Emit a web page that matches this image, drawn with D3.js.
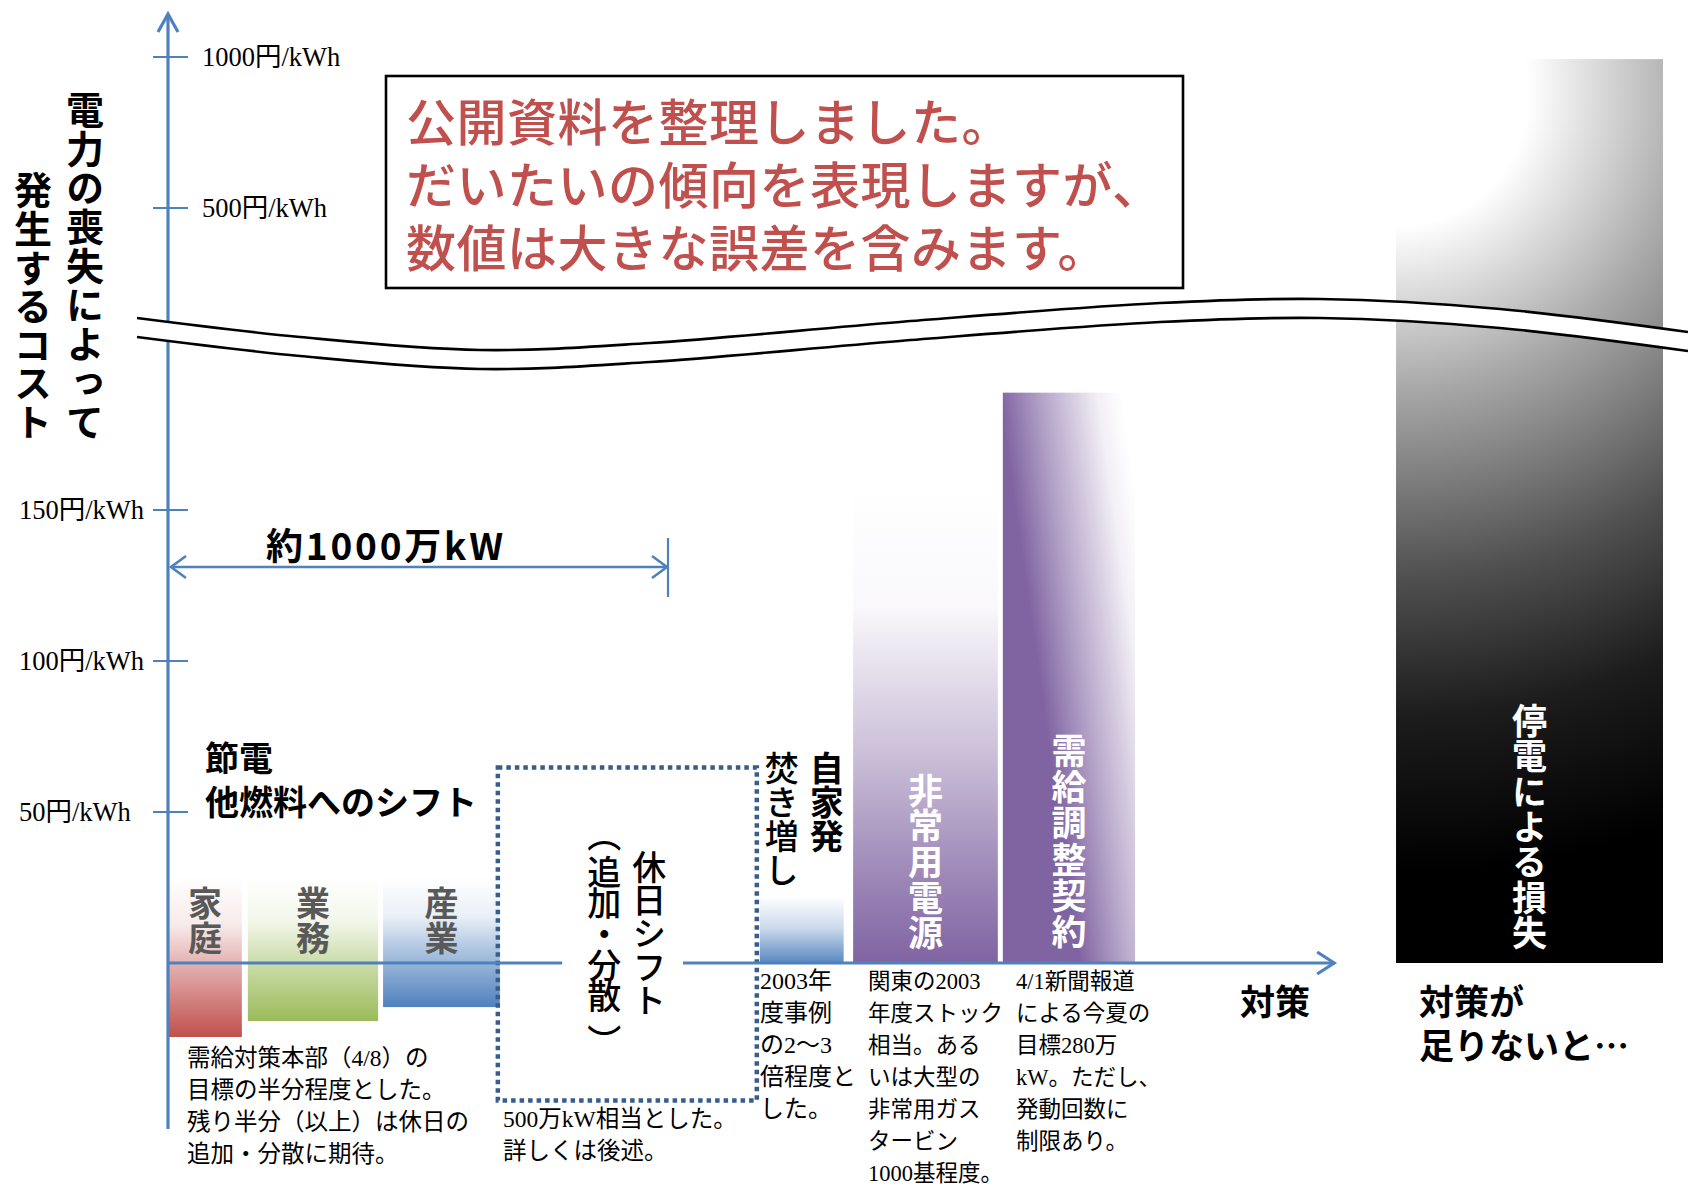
<!DOCTYPE html>
<html><head><meta charset="utf-8">
<script src="https://cdn.jsdelivr.net/npm/d3@7"></script>
<style>
html,body{margin:0;padding:0;background:#fff;}
svg{display:block;}
</style></head><body>
<svg id="c" width="1688" height="1186" font-family="Noto Sans CJK JP, sans-serif"></svg>
<script>
// ---------- data ----------
const yTickValues = [50, 100, 150, 500, 1000];
const yTickLabels = ["50円/kWh", "100円/kWh", "150円/kWh", "500円/kWh", "1000円/kWh"];
const measureNames = ["家庭", "業務", "産業", "休日シフト", "自家発焚き増し", "非常用電源", "需給調整契約", "停電による損失"];
const capacityStart = [0, 160, 431, 661, 1186, 1373, 1673, 2461];   // 万kW
const capacityWidth = [148, 261, 234, 519, 168, 290, 265, 535];     // 万kW
const costLow  = [-24.5, -19.2, -14.6, -45.5, 0, 0, 0, 0];          // 円/kWh
const costHigh = [28.5, 28.5, 28.5, 64.7, 28.5, 173, 286, 993];     // 円/kWh
const totalSpanCapacity = 1000;   // 約1000万kW
const xAxisEndCapacity = 2337;
const xAxisGapCapacity = [790, 1032];
const titleLines = ["公開資料を整理しました。", "だいたいの傾向を表現しますが、", "数値は大きな誤差を含みます。"];
const yTitleLines = ["電力の喪失によって", "発生するコスト"];
const noteTexts = [
  ["需給対策本部（4/8）の", "目標の半分程度とした。", "残り半分（以上）は休日の", "追加・分散に期待。"],
  ["500万kW相当とした。", "詳しくは後述。"],
  ["2003年", "度事例", "の2〜3", "倍程度と", "した。"],
  ["関東の2003", "年度ストック", "相当。ある", "いは大型の", "非常用ガス", "タービン", "1000基程度。"],
  ["4/1新聞報道", "による今夏の", "目標280万", "kW。ただし、", "発動回数に", "制限あり。"]
];

// ---------- layout ----------
const svg = d3.select("#c");
const x = d3.scaleLinear().domain([0, 1000]).range([168, 667]);
const y = d3.scaleLinear().domain([0, 150, 500, 1000]).range([963, 510, 208, 57]);
const blue = "#4F81BD";
const mixFont = "Liberation Serif, Noto Sans CJK JP, serif";
const defs = svg.append("defs");

function vGrad(id, color, stops) {
  const g = defs.append("linearGradient").attr("id", id)
    .attr("x1", 0).attr("y1", 0).attr("x2", 0).attr("y2", 1);
  stops.forEach(s => g.append("stop").attr("offset", s[0]).attr("stop-color", color).attr("stop-opacity", s[1]));
}
const sectorStops = [[0, 0], [0.3, 0.12], [0.55, 0.45], [1, 1]];
vGrad("g0", "#C0504D", sectorStops);
vGrad("g1", "#9BBB59", sectorStops);
vGrad("g2", "#4F81BD", sectorStops);
vGrad("g4", "#4F81BD", [[0, 0], [0.23, 0], [0.6, 0.3], [1, 0.95]]);
vGrad("g5", "#8064A2", [[0, 0], [0.25, 0.05], [0.55, 0.4], [0.8, 0.75], [1, 1]]);
{
  const g = defs.append("linearGradient").attr("id", "g6")
    .attr("x1", 0.9).attr("y1", 0).attr("x2", 0).attr("y2", 0.55);
  [[0, 0], [0.15, 0.1], [0.5, 0.6], [0.75, 1], [1, 1]].forEach(s =>
    g.append("stop").attr("offset", s[0]).attr("stop-color", "#8064A2").attr("stop-opacity", s[1]));
}
{
  const x0 = x(capacityStart[7]);
  const g = defs.append("radialGradient").attr("id", "g7").attr("gradientUnits", "userSpaceOnUse")
    .attr("cx", x0).attr("cy", y(880)).attr("fx", x0).attr("fy", y(880)).attr("r", 780);
  [[0, "#ffffff"], [0.17, "#ffffff"], [0.38, "#a8a8a8"], [0.62, "#505050"], [0.8, "#1c1c1c"], [1, "#000000"]]
    .forEach(s => g.append("stop").attr("offset", s[0]).attr("stop-color", s[1]));
}

// bars (except the dotted holiday box)
const barIdx = [0, 1, 2, 4, 5, 6, 7];
svg.append("g").selectAll("rect").data(barIdx).join("rect")
  .attr("x", i => x(capacityStart[i]))
  .attr("width", i => x(capacityStart[i] + capacityWidth[i]) - x(capacityStart[i]))
  .attr("y", i => y(costHigh[i]))
  .attr("height", i => y(costLow[i]) - y(costHigh[i]))
  .attr("fill", i => `url(#g${i})`);

// dotted box (休日シフト)
svg.append("rect")
  .attr("x", x(capacityStart[3])).attr("y", y(costHigh[3]))
  .attr("width", x(capacityStart[3] + capacityWidth[3]) - x(capacityStart[3]))
  .attr("height", y(costLow[3]) - y(costHigh[3]))
  .attr("fill", "none").attr("stroke", "#385D8A").attr("stroke-width", 4.5)
  .attr("stroke-dasharray", "4.5,4");

// y axis
const ax = x(0);
svg.append("line").attr("x1", ax).attr("x2", ax).attr("y1", 14).attr("y2", 1129)
  .attr("stroke", blue).attr("stroke-width", 3.2);
svg.append("polyline").attr("points", `${ax - 10},32 ${ax},14 ${ax + 10},32`)
  .attr("fill", "none").attr("stroke", blue).attr("stroke-width", 3.2);
const ticks = svg.append("g").selectAll("g").data(yTickValues).join("g")
  .attr("transform", d => `translate(0,${y(d)})`);
ticks.append("line").attr("x1", ax - 15).attr("x2", ax + 20).attr("stroke", blue).attr("stroke-width", 2.2);
ticks.append("text")
  .attr("x", d => d >= 500 ? ax + 34 : 19)
  .attr("y", 8.5)
  .attr("font-family", mixFont)
  .attr("font-size", 26.5).attr("fill", "#000")
  .text((d, i) => yTickLabels[i]);

// x axis
const axY = y(0);
svg.append("line").attr("x1", ax).attr("x2", x(xAxisGapCapacity[0])).attr("y1", axY).attr("y2", axY)
  .attr("stroke", blue).attr("stroke-width", 3.2);
svg.append("line").attr("x1", x(xAxisGapCapacity[1])).attr("x2", x(xAxisEndCapacity)).attr("y1", axY).attr("y2", axY)
  .attr("stroke", blue).attr("stroke-width", 3.2);
{
  const xe = x(xAxisEndCapacity);
  svg.append("polyline").attr("points", `${xe - 17},${axY - 11} ${xe},${axY} ${xe - 17},${axY + 11}`)
    .attr("fill", "none").attr("stroke", blue).attr("stroke-width", 3.2);
}

// double arrow 約1000万kW
{
  const ya = 567, x0 = x(0) + 3, x1 = x(totalSpanCapacity);
  svg.append("line").attr("x1", x0).attr("x2", x1).attr("y1", ya).attr("y2", ya).attr("stroke", blue).attr("stroke-width", 2.6);
  svg.append("polyline").attr("points", `${x0 + 15},${ya - 11} ${x0},${ya} ${x0 + 15},${ya + 11}`)
    .attr("fill", "none").attr("stroke", blue).attr("stroke-width", 2.6);
  svg.append("polyline").attr("points", `${x1 - 15},${ya - 11} ${x1},${ya} ${x1 - 15},${ya + 11}`)
    .attr("fill", "none").attr("stroke", blue).attr("stroke-width", 2.6);
  svg.append("line").attr("x1", x1 + 1).attr("x2", x1 + 1).attr("y1", 538).attr("y2", 597).attr("stroke", blue).attr("stroke-width", 2.2);
  svg.append("text").attr("x", 266).attr("y", 544).attr("dominant-baseline", "central")
    .attr("font-size", 37).attr("font-weight", 700).attr("letter-spacing", 2.8).text("約1000万kW");
}

// break band
{
  const wave = [[137, 318], [300, 337], [480, 350], [650, 343], [900, 322], [1160, 303], [1320, 299], [1500, 309], [1688, 332]];
  const gapPx = 19;
  const line = d3.line().curve(d3.curveCatmullRom);
  const bot = wave.map(p => [p[0], p[1] + gapPx]);
  const area = d3.area().curve(d3.curveCatmullRom).x(p => p[0]).y0(p => p[1]).y1(p => p[1] + gapPx);
  svg.append("path").attr("d", area(wave)).attr("fill", "#fff");
  svg.append("path").attr("d", line(wave)).attr("fill", "none").attr("stroke", "#000").attr("stroke-width", 2.6);
  svg.append("path").attr("d", line(bot)).attr("fill", "none").attr("stroke", "#000").attr("stroke-width", 2.6);
}

// title box
svg.append("rect").attr("x", 386).attr("y", 76).attr("width", 797).attr("height", 212)
  .attr("fill", "#fff").attr("stroke", "#000").attr("stroke-width", 2.6);
svg.append("g").selectAll("text").data(titleLines).join("text")
  .attr("x", 406).attr("y", (d, i) => 119 + i * 63).attr("dominant-baseline", "central")
  .attr("font-size", 50).attr("font-weight", 500).attr("letter-spacing", 0.5)
  .attr("fill", "#C0504D").text(d => d);

// vertical text helper
function vtext(str, cx, top, size, fill, weight, ls) {
  svg.append("text").attr("x", cx).attr("y", top)
    .style("writing-mode", "vertical-rl")
    .attr("font-size", size).attr("font-weight", weight).attr("fill", fill)
    .attr("letter-spacing", ls).text(str);
}
// y axis title
vtext(yTitleLines[0], 85, 91, 38, "#000", 700, 1);
vtext(yTitleLines[1], 33, 171, 38, "#000", 700, 0.6);

// bar labels
const cx = i => (x(capacityStart[i]) + x(capacityStart[i] + capacityWidth[i])) / 2;
vtext(measureNames[0], cx(0), 886, 34, "#595959", 700, 1);
vtext(measureNames[1], cx(1), 886, 34, "#595959", 700, 1);
vtext(measureNames[2], cx(2), 886, 34, "#595959", 700, 1);
vtext("休日シフト", cx(3) + 22, 850, 34, "#000", 500, -0.8);
vtext("（", cx(3) - 23, 818, 34, "#000", 500, 0);
vtext("追加・分散", cx(3) - 23, 855, 34, "#000", 500, -3);
vtext("）", cx(3) - 23, 1024, 34, "#000", 500, 0);
vtext("自家発", cx(4) + 25, 751, 34, "#000", 700, 0);
vtext("焚き増し", cx(4) - 20, 751, 34, "#000", 500, 0);
vtext(measureNames[5], cx(5), 773, 35, "#fff", 700, 0.6);
vtext(measureNames[6], cx(6), 733, 35, "#fff", 700, 1.3);
vtext(measureNames[7], cx(7), 703, 35, "#fff", 700, 0.4);

// horizontal labels
function htext(str, x0, yc, size, weight) {
  svg.append("text").attr("x", x0).attr("y", yc).attr("dominant-baseline", "central")
    .attr("font-size", size).attr("font-weight", weight).attr("fill", "#000").text(str);
}
htext("節電", 205, 756, 34, 700);
htext("他燃料へのシフト", 205, 800, 34, 700);
htext("対策", 1240, 999, 35, 700);
htext("対策が", 1419, 999, 35, 700);
htext("足りないと…", 1419, 1043, 35, 700);

// notes
const noteX = [187, 503, 760, 868, 1016];
const noteY0 = [1066, 1127, 989, 989, 989];
const noteSize = [23.5, 23.5, 24, 22.5, 22.5];
noteTexts.forEach((lines, k) => {
  svg.append("g").selectAll("text").data(lines).join("text")
    .attr("x", noteX[k]).attr("y", (d, i) => noteY0[k] + i * 32)
    .attr("font-family", mixFont)
    .attr("font-size", noteSize[k]).attr("fill", "#000").text(d => d);
});
</script>
</body></html>
